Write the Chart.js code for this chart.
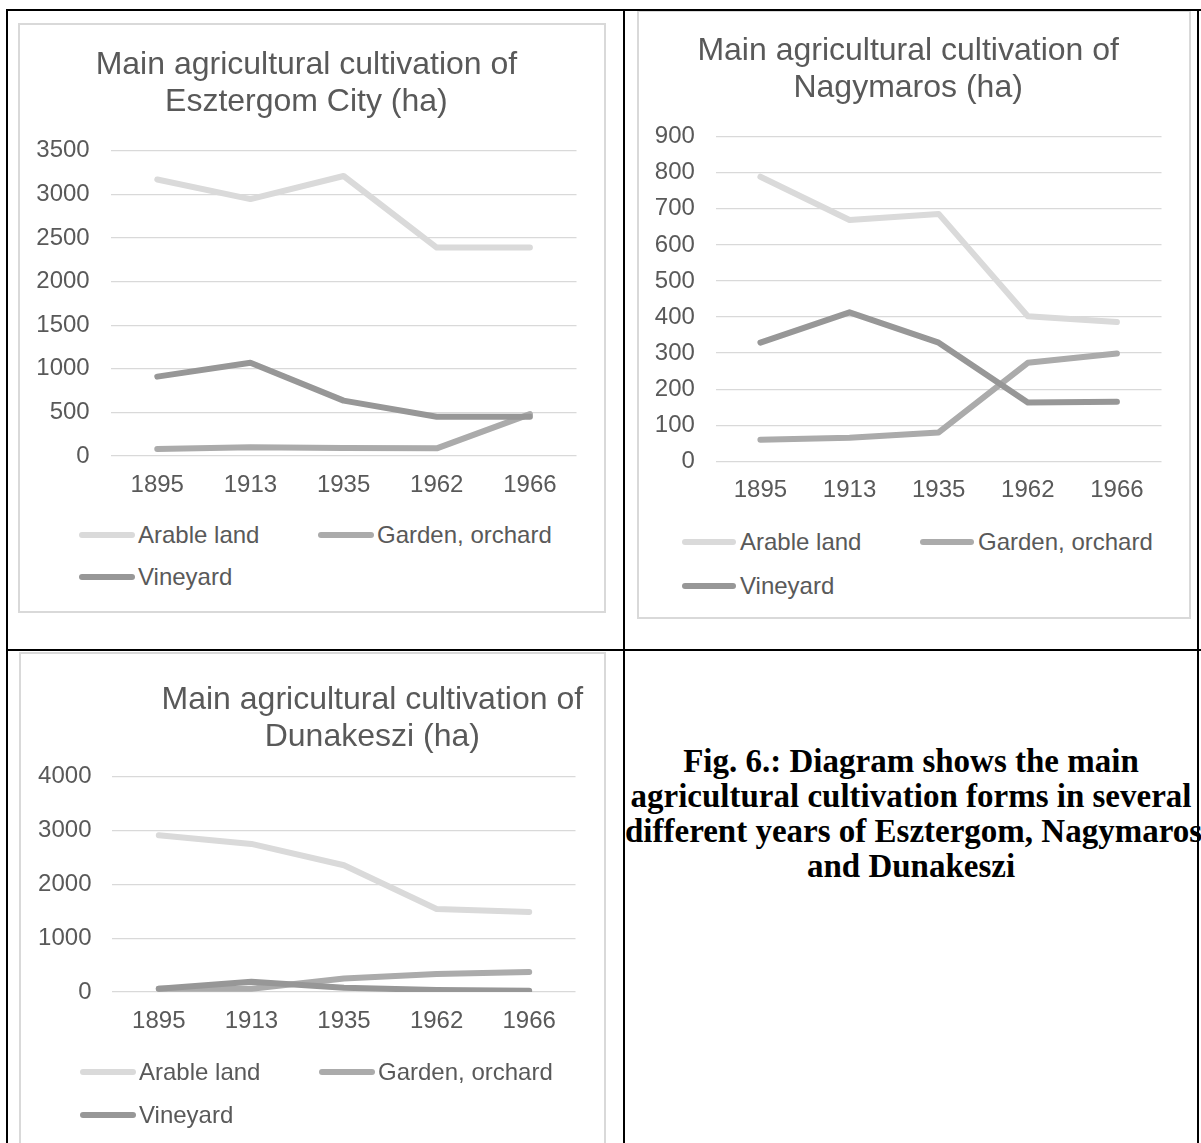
<!DOCTYPE html>
<html>
<head>
<meta charset="utf-8">
<script src="https://cdn.jsdelivr.net/npm/chart.js@4.4.1/dist/chart.umd.min.js"></script>
<style>
  html, body { margin: 0; padding: 0; background: #fff; }
  body { width: 1201px; height: 1143px; position: relative; overflow: hidden; font-family: "Liberation Sans", Arial, sans-serif; }
  .rule { position: absolute; background: #000; }
  .frame { position: absolute; border: 2px solid #d9d9d9; box-sizing: border-box; background: #fff; }
  canvas { position: absolute; }
  .legend { position: absolute; display: grid; color: #595959; font-size: 24px; }
  .legend .item { display: flex; align-items: center; white-space: nowrap; }
  .legend .swatch { height: 6px; border-radius: 3px; }
  #caption { position: absolute; left: 625px; top: 744px; width: 572px; text-align: center;
             font: bold 33px/35px "Liberation Serif", "Times New Roman", serif; color: #000; white-space: nowrap; }
</style>
</head>
<body>
<div class="frame" style="left:18px;top:23px;width:588px;height:590px"></div>
<div class="frame" style="left:637px;top:10px;width:554px;height:609px"></div>
<div class="frame" style="left:19px;top:652px;width:587px;height:520px"></div>

<canvas id="esztergomChart" width="584" height="480" style="left:20px;top:25px"></canvas>
<canvas id="nagymarosChart" width="550" height="500" style="left:639px;top:12px"></canvas>
<canvas id="dunakesziChart" width="583" height="400" style="left:21px;top:654px"></canvas>

<div id="esztergomLegend" class="legend" style="left:79px;top:514px"></div>
<div id="nagymarosLegend" class="legend" style="left:682px;top:520px"></div>
<div id="dunakesziLegend" class="legend" style="left:80px;top:1051px"></div>

<div id="caption">Fig. 6.: Diagram shows the main<br>agricultural cultivation forms in several<br>different years of Esztergom, Nagymaros<br>and Dunakeszi</div>

<div class="rule" style="left:6px;top:9px;width:1195px;height:2px"></div>
<div class="rule" style="left:6px;top:9px;width:2px;height:1134px"></div>
<div class="rule" style="left:623px;top:9px;width:2px;height:1134px"></div>
<div class="rule" style="left:6px;top:649px;width:1195px;height:2px"></div>
<div class="rule" style="left:1197px;top:9px;width:2px;height:1134px"></div>

<script>
// years and series
const years = ['1895', '1913', '1935', '1962', '1966'];
const seriesNames = ['Arable land', 'Garden, orchard', 'Vineyard'];
const lineColors = ['#dadada', '#ababab', '#979797'];

// Esztergom City (ha)
const esztergomArable = [3170, 2945, 3210, 2390, 2390];
const esztergomGarden = [80, 100, 92, 88, 480];
const esztergomVineyard = [910, 1070, 635, 450, 450];
const esztergomTicks = [0, 500, 1000, 1500, 2000, 2500, 3000, 3500];

// Nagymaros (ha)
const nagymarosArable = [789, 669, 686, 402, 386];
const nagymarosGarden = [60, 65, 80, 273, 299];
const nagymarosVineyard = [329, 413, 329, 163, 165];
const nagymarosTicks = [0, 100, 200, 300, 400, 500, 600, 700, 800, 900];

// Dunakeszi (ha)
const dunakesziArable = [2913, 2751, 2355, 1543, 1487];
const dunakesziGarden = [60, 60, 250, 335, 372];
const dunakesziVineyard = [61, 190, 80, 37, 25];
const dunakesziTicks = [0, 1000, 2000, 3000, 4000];

const textColor = '#595959';
Chart.defaults.font.family = "'Liberation Sans', Arial, sans-serif";

// legend as html grid (2 columns like the office chart)
const htmlLegend = {
  id: 'htmlLegend',
  afterUpdate(chart, args, opts) {
    const box = document.getElementById(opts.containerID);
    box.innerHTML = '';
    box.style.gridTemplateColumns = opts.colWidth + 'px auto';
    box.style.gridAutoRows = opts.rowHeight + 'px';
    const items = chart.options.plugins.legend.labels.generateLabels(chart);
    items.sort((a, b) => a.datasetIndex - b.datasetIndex);
    items.forEach(item => {
      const div = document.createElement('div');
      div.className = 'item';
      const sw = document.createElement('span');
      sw.className = 'swatch';
      sw.style.width = opts.swatch + 'px';
      sw.style.marginRight = opts.gap + 'px';
      sw.style.background = item.strokeStyle;
      const txt = document.createElement('span');
      txt.textContent = item.text;
      div.appendChild(sw);
      div.appendChild(txt);
      box.appendChild(div);
    });
  }
};

// move title sideways (Dunakeszi title is off-centre)
const shiftTitle = {
  id: 'shiftTitle',
  afterLayout(chart, args, opts) {
    if (opts.dx && chart.titleBlock) {
      chart.titleBlock.left += opts.dx;
      chart.titleBlock.right += opts.dx;
    }
  }
};

function makeChart(canvasId, titleLines, values, yTicks, lay) {
  return new Chart(document.getElementById(canvasId), {
    type: 'line',
    data: {
      labels: years,
      datasets: seriesNames.map((name, i) => ({
        label: name,
        data: values[i],
        borderColor: lineColors[i],
        backgroundColor: lineColors[i],
        borderWidth: 6,
        borderCapStyle: 'round',
        borderJoinStyle: 'round',
        pointRadius: 0,
        tension: 0,
        fill: false,
        order: 3 - i
      }))
    },
    options: {
      responsive: false,
      animation: false,
      events: [],
      layout: { padding: lay.pad },
      plugins: {
        legend: { display: false },
        tooltip: { enabled: false },
        title: {
          display: true,
          text: titleLines,
          color: textColor,
          font: { size: 32, weight: 'normal', lineHeight: 1.15 },
          padding: { top: lay.titleTop, bottom: lay.titleBottom }
        },
        shiftTitle: { dx: lay.titleDx || 0 },
        htmlLegend: lay.legend
      },
      scales: {
        x: {
          offset: true,
          grid: { display: false, drawTicks: false },
          border: { display: false },
          ticks: { color: textColor, font: { size: 24 }, padding: 15, maxRotation: 0, autoSkip: false },
          // chart.js counts tick padding twice; keep it once
          afterFit: s => { s.height -= s.options.ticks.padding; }
        },
        y: {
          min: yTicks[0],
          max: yTicks[yTicks.length - 1],
          grid: { color: '#d9d9d9', lineWidth: 1.3, drawTicks: false },
          border: { display: false },
          ticks: {
            stepSize: yTicks[1] - yTicks[0],
            color: textColor,
            font: { size: 24 },
            padding: 21,
            callback: v => String(v)
          },
          afterFit: s => { s.width -= s.options.ticks.padding; }
        }
      }
    },
    plugins: [htmlLegend, shiftTitle]
  });
}

makeChart('esztergomChart',
  ['Main agricultural cultivation of', 'Esztergom City (ha)'],
  [esztergomArable, esztergomGarden, esztergomVineyard], esztergomTicks,
  { pad: { left: 16.3, right: 27.5, top: 0, bottom: 5.2 }, titleTop: 21.5, titleBottom: 30.6,
    legend: { containerID: 'esztergomLegend', colWidth: 239, rowHeight: 42, swatch: 56, gap: 3 } });

makeChart('nagymarosChart',
  ['Main agricultural cultivation of', 'Nagymaros (ha)'],
  [nagymarosArable, nagymarosGarden, nagymarosVineyard], nagymarosTicks,
  { pad: { left: 15.8, right: 27.5, top: 0, bottom: 6.9 }, titleTop: 21, titleBottom: 30.1,
    legend: { containerID: 'nagymarosLegend', colWidth: 238, rowHeight: 44, swatch: 54, gap: 4 } });

makeChart('dunakesziChart',
  ['Main agricultural cultivation of', 'Dunakeszi (ha)'],
  [dunakesziArable, dunakesziGarden, dunakesziVineyard], dunakesziTicks,
  { pad: { left: 17.1, right: 28.5, top: 0, bottom: 18.2 }, titleTop: 27.5, titleBottom: 21.6, titleDx: 65.5,
    legend: { containerID: 'dunakesziLegend', colWidth: 239, rowHeight: 42.5, swatch: 56, gap: 3 } });
</script>
</body>
</html>
